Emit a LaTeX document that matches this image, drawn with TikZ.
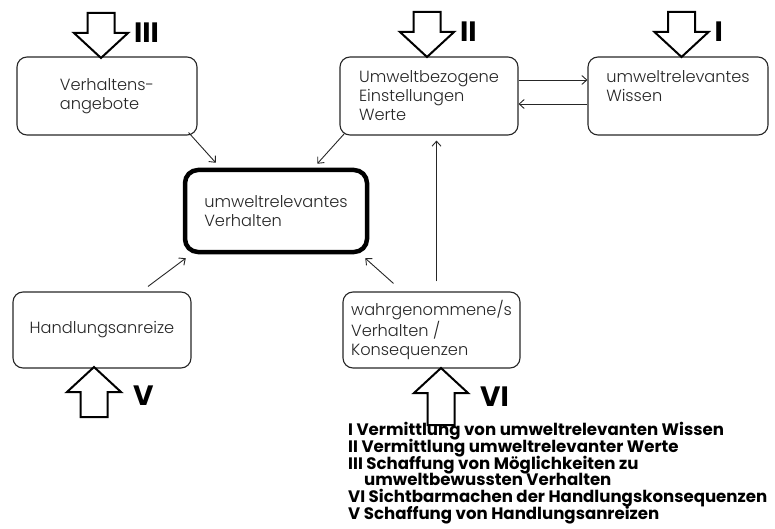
\documentclass[tikz,border=0pt]{standalone}
\usepackage{fontspec}
\setmainfont{Poppins}
\newfontfamily\lightfont{Poppins Light}
\usepackage{tikz}
\usetikzlibrary{calc}
\usetikzlibrary{arrows.meta}

\begin{document}
\begin{tikzpicture}[x=1pt,y=-1pt,
  box/.style={draw=black!85, line width=1.1pt, rounded corners=10pt, minimum width=180pt, minimum height=78pt, align=left, inner sep=0pt, text=black!85, font=\lightfont\fontsize{16.2}{19}\selectfont},
  lowbox/.style={box, minimum width=178pt, minimum height=76pt},
  mainbox/.style={box, draw=black, line width=4.5pt, rounded corners=13pt, minimum width=182pt, minimum height=82pt},
  blockarrow/.style={draw=black, line width=2pt, fill=white, line join=miter},
  numeral/.style={anchor=west, inner sep=0pt, font=\fontsize{28}{28}\selectfont\bfseries},
  legend/.style={anchor=north west, align=left, inner sep=0pt, font={\fontsize{16.6}{16.8}\selectfont\bfseries\lineskiplimit=-20pt\relax}},
  link/.style={-{Straight Barb[length=5pt,width=9pt]}, line width=0.9pt, black!85}]

\useasboundingbox (0,0) rectangle (775,529);

\node[box] (verh) at (107,96) {Verhaltens-\\angebote};
\node[box, minimum width=178pt] (umw) at (429,96) {Umweltbezogene\\Einstellungen\\Werte};
\node[box] (wis) at (678,96) {umweltrelevantes\\Wissen\\\mbox{}};
\node[mainbox] (mid) at (276,211) {umweltrelevantes\\Verhalten};
\node[lowbox] (hand) at (102,330) {Handlungsanreize};
\node[lowbox, minimum width=177pt] (wahr) at (431.5,330) {wahrgenommene/s\\Verhalten /\\Konsequenzen};

\draw[link] ($(verh.south east)+(-9,-3)$) -- ($(mid.north west)+(33,-5)$);
\draw[link] ($(umw.south west)+(5,-2)$) -- ($(mid.north east)+(-52,-4)$);
\draw[link] ($(umw.east)+(0,-16)$) -- ($(wis.west)+(0,-16)$);
\draw[link] ($(wis.west)+(0,8)$) -- ($(umw.east)+(0,8)$);
\draw[link] ($(hand.north)+(46,-5)$) -- ($(mid.south west)+(3,4)$);
\draw[link] ($(wahr.north)+(-38,-8)$) -- ($(mid.south east)+(-4,4)$);
\draw[link] ($(wahr.north)+(5,-10)$) -- ($(umw.south)+(7.5,5)$);

\foreach \tx/\ty/\num in {101/58/III, 427/57/II, 681.5/57/I}
{
\draw[blockarrow] (\tx-13.5,\ty-45) -- (\tx+13.5,\ty-45) -- (\tx+13.5,\ty-25) -- (\tx+27,\ty-25) -- (\tx,\ty) -- (\tx-27,\ty-25) -- (\tx-13.5,\ty-25) -- cycle;
\node[numeral] (n\num) at (\tx+33,\ty-25) {\num};
}

\foreach \tx/\ty/\len/\num in {94/367/50/V, 441/368/57/VI}
{
\draw[blockarrow] (\tx-13.5,\ty+\len) -- (\tx+13.5,\ty+\len) -- (\tx+13.5,\ty+25) -- (\tx+27,\ty+25) -- (\tx,\ty) -- (\tx-27,\ty+25) -- (\tx-13.5,\ty+25) -- cycle;
\node[numeral] (n\num) at (\tx+39,\ty+29) {\num};
}

\node[legend] (key) at (348,422) {I Vermittlung von umweltrelevanten Wissen\\II Vermittlung umweltrelevanter Werte\\III Schaffung von Möglichkeiten zu\\\hspace*{16pt}umweltbewussten Verhalten\\VI Sichtbarmachen der Handlungskonsequenzen\\V Schaffung von Handlungsanreizen};
\end{tikzpicture}
\end{document}
